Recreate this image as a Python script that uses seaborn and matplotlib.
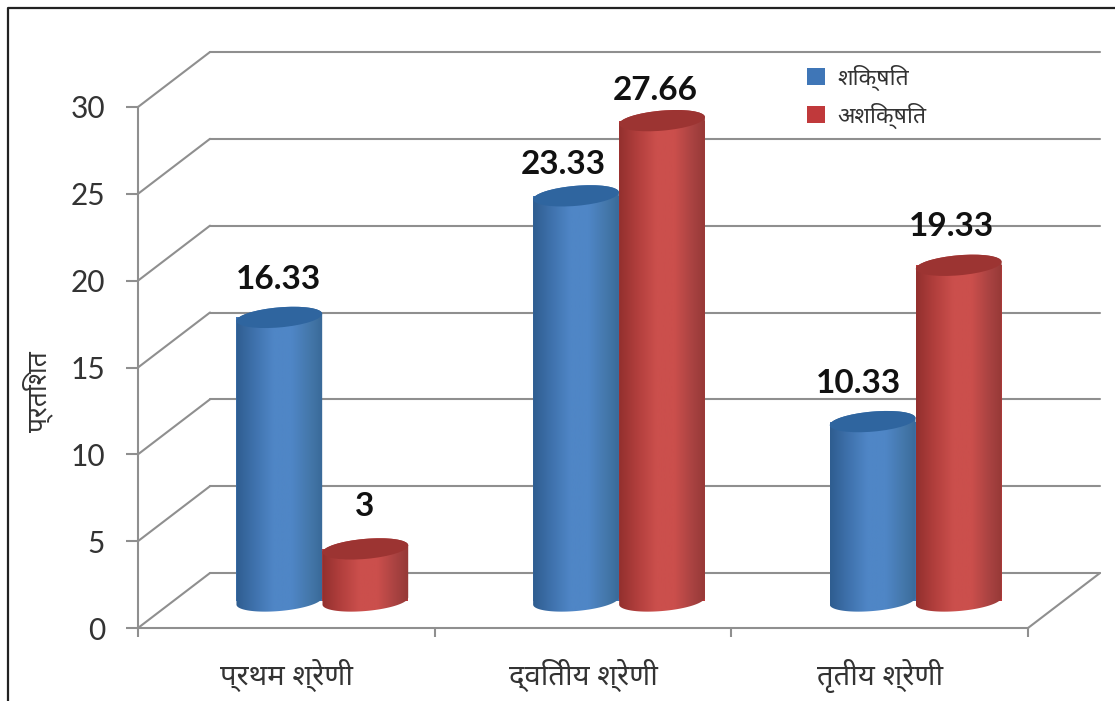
import numpy as np
import pandas as pd
import matplotlib
matplotlib.use("Agg")
import matplotlib.pyplot as plt
from matplotlib.colors import LinearSegmentedColormap
from matplotlib.lines import Line2D
from matplotlib.patches import Ellipse, PathPatch, Patch
from matplotlib.path import Path
from matplotlib.transforms import Affine2D, IdentityTransform
import seaborn as sns

categories = ["प्रथम श्रेणी", "द्वितीय श्रेणी", "तृतीय श्रेणी"]
series_names = ["शिक्षित", "अशिक्षित"]
educated = [16.33, 23.33, 10.33]
uneducated = [3, 27.66, 19.33]
value_labels = [["16.33", "23.33", "10.33"], ["3", "27.66", "19.33"]]
y_ticks = [0, 5, 10, 15, 20, 25, 30]
y_title = "प्रतिशत"

DEV = ["Noto Sans Devanagari", "DejaVu Sans"]
W, H = 1115, 701
sns.set_theme(style="white")
plt.rcParams["font.family"] = ["Lato", "Noto Sans Devanagari", "DejaVu Sans"]

GRID = "#8f8f8f"
TEXT = "#333333"
BASE = ["#3f76b7", "#c0393b"]
TOPS = ["#2f659f", "#9c3432"]
SIDES = [
    ["#2f5d90", "#3f72ad", "#4f86c6", "#4f86c6", "#4477aa", "#34638f"],
    ["#93302e", "#b23f3d", "#cb4f4c", "#cb4f4c", "#a84241", "#8c3431"],
]

fig = plt.figure(figsize=(W / 100, H / 100), dpi=100, facecolor="white")
ax = fig.add_axes([138 / W, (H - 628) / H, (1028 - 138) / W, (628 - 107) / H])

df = pd.DataFrame({
    "cat": categories * 2,
    "val": educated + uneducated,
    "ser": [series_names[0]] * 3 + [series_names[1]] * 3,
})
sns.barplot(data=df, x="cat", y="val", hue="ser", hue_order=series_names,
            order=categories, palette=BASE, width=0.58, gap=0, dodge=True,
            saturation=1, legend=False, ax=ax, zorder=3, errorbar=None)
ax.set_xlim(-0.5, 2.5)
ax.set_ylim(0, 30)

back = ax.transData + Affine2D().translate(72, 55)
mid = ax.transData + Affine2D().translate(36, 27)
blend = dict(color=GRID, lw=1.5, clip_on=False, zorder=1, solid_capstyle="round")

# back wall and side diagonals
for v in y_ticks:
    ax.plot([-0.5, 2.5], [v, v], transform=back, **blend)
    p0 = ax.transData.transform((-0.5, v))
    p1 = back.transform((-0.5, v))
    ax.add_line(Line2D([p0[0], p1[0]], [p0[1], p1[1]], transform=IdentityTransform(), **blend))
p0 = ax.transData.transform((2.5, 0))
p1 = back.transform((2.5, 0))
ax.add_line(Line2D([p0[0], p1[0]], [p0[1], p1[1]], transform=IdentityTransform(), **blend))


def ell(cx, cy, a, b, deg, t):
    r = np.radians(deg)
    x, y = a * np.cos(t), b * np.sin(t)
    return np.column_stack([cx + x * np.cos(r) - y * np.sin(r),
                            cy + x * np.sin(r) + y * np.cos(r)])


TILT = 5
RY = 10
label_shift = [[(-1, 38), (-13, 31), (-14, 38)], [(-1, 42), (-7, 30), (-7, 39)]]
z = 4
for s, cont in enumerate(ax.containers):
    cmap = LinearSegmentedColormap.from_list("side", SIDES[s])
    for i, bar in enumerate(cont):
        x0 = bar.get_x()
        x1 = x0 + bar.get_width()
        top = bar.get_height()
        bar.set_transform(mid)
        bar.set_clip_on(False)
        bar.set_edgecolor("none")
        (l, b0) = mid.transform((x0, 0))
        (r, t0) = mid.transform((x1, top))
        cx, a = (l + r) / 2, (r - l) / 2
        low = ell(cx, b0, a, RY, TILT, np.linspace(np.pi, 2 * np.pi, 50))
        upp = ell(cx, t0, a, RY, TILT, np.linspace(0, np.pi, 50))
        pts = np.vstack([low, upp, low[:1]])
        clip = PathPatch(Path(pts), transform=IdentityTransform())
        im = ax.imshow(np.linspace(0, 1, 128)[None, :], cmap=cmap, aspect="auto",
                       extent=[l, r + 6, b0 - 2 * RY, t0 + 2 * RY],
                       transform=IdentityTransform(), zorder=z)
        im.set_clip_path(clip)
        ax.add_patch(Ellipse((cx, t0), 2 * a, 2 * RY, angle=TILT, facecolor=TOPS[s],
                             edgecolor="none", transform=IdentityTransform(),
                             zorder=z + 0.5, clip_on=False))
        dx, dy = label_shift[s][i]
        ax.annotate(value_labels[s][i], xy=(cx + dx, t0 + dy), xycoords=IdentityTransform(),
                    ha="center", va="center", fontsize=24, fontweight="bold",
                    color="#111111", zorder=20, annotation_clip=False)
        z += 1

ax.set_xlim(-0.5, 2.5)
ax.set_ylim(0, 30)

# axes
sns.despine(ax=ax)
for sp in ("left", "bottom"):
    ax.spines[sp].set_color(GRID)
    ax.spines[sp].set_linewidth(1.5)
ax.set_yticks(y_ticks)
ax.tick_params(axis="y", length=8.6, width=1.5, color=GRID, labelsize=21.5, labelcolor=TEXT, pad=15, left=True)
ax.set_xticks([0, 1, 2])
ax.set_xticklabels(categories, family=DEV, fontsize=21, color=TEXT)
ax.tick_params(axis="x", which="major", length=0, pad=22, bottom=False)
ax.set_xticks([-0.5, 0.5, 1.5, 2.5], minor=True)
ax.tick_params(axis="x", which="minor", length=6.5, width=1.5, color=GRID, bottom=True)
ax.set_xlabel("")
ax.set_ylabel("")
fig.text(38 / W, (H - 392) / H, y_title, rotation=90, family=DEV, fontsize=19,
         color=TEXT, ha="center", va="center")

# legend
handles = [Patch(facecolor=c, edgecolor="none") for c in BASE]
leg = fig.legend(handles, series_names, loc="upper left",
                 bbox_to_anchor=(786 / W, (H - 44) / H), frameon=False,
                 prop={"family": DEV, "size": 16.5}, handlelength=0.8, handleheight=0.8,
                 handletextpad=0.55, labelspacing=0.52, labelcolor=TEXT)

# outer picture frame
fig.add_artist(Line2D([7.5 / W, 7.5 / W, 1], [0, (H - 8) / H, (H - 8) / H],
                      color="#222222", lw=1.6, transform=fig.transFigure))

fig.savefig("out.png", dpi=100)
